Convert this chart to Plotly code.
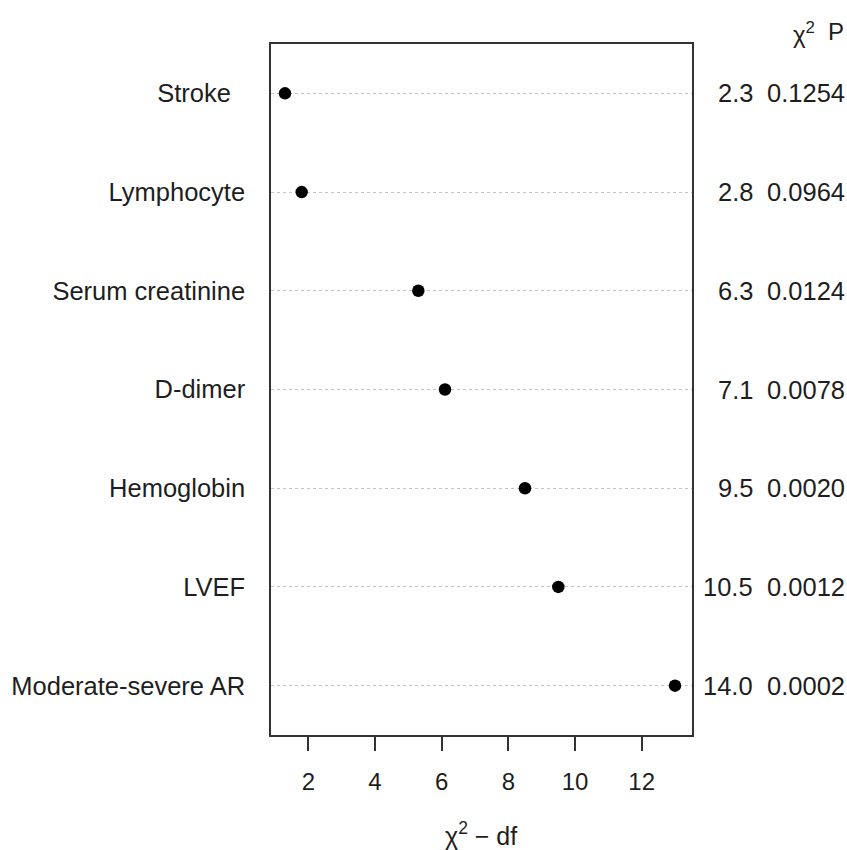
import plotly.graph_objects as go

labels = ["Stroke", "Lymphocyte", "Serum creatinine", "D-dimer",
          "Hemoglobin", "LVEF", "Moderate-severe AR"]
chisq = [2.3, 2.8, 6.3, 7.1, 9.5, 10.5, 14.0]
dfree = [1, 1, 1, 1, 1, 1, 1]
pvals = ["0.1254", "0.0964", "0.0124", "0.0078", "0.0020", "0.0012", "0.0002"]
xticks = [2, 4, 6, 8, 10, 12]

xvals = [c - d for c, d in zip(chisq, dfree)]
ypos = list(range(1, len(labels) + 1))
ticklab = [l + ("&nbsp;&nbsp;" if l == "Stroke" else "") for l in labels]

FONT = "Liberation Sans, Arial, sans-serif"
TXT = "#1e1e1e"

fig = go.Figure()
fig.add_trace(go.Scatter(
    x=xvals, y=ypos, mode="markers",
    marker=dict(color="black", size=12.5),
    showlegend=False, hoverinfo="skip"))

annots = []
for y, c, p in zip(ypos, chisq, pvals):
    annots.append(dict(x=1, xref="paper", y=y, yref="y", text=f"{c:.1f}",
                       xanchor="right", yanchor="middle", xshift=63, showarrow=False,
                       font=dict(size=25.5, color=TXT, family=FONT)))
    annots.append(dict(x=1, xref="paper", y=y, yref="y", text=p,
                       xanchor="right", yanchor="middle", xshift=155, showarrow=False,
                       font=dict(size=25.5, color=TXT, family=FONT)))
annots.append(dict(x=1, xref="paper", y=1, yref="paper", text="χ<sup>2</sup>",
                   xanchor="center", yanchor="bottom", xshift=112, yshift=-6,
                   showarrow=False, font=dict(size=24, color=TXT, family=FONT)))
annots.append(dict(x=1, xref="paper", y=1, yref="paper", text="P",
                   xanchor="center", yanchor="bottom", xshift=144, yshift=-3,
                   showarrow=False, font=dict(size=24, color=TXT, family=FONT)))
annots.append(dict(x=0.5, xref="paper", y=0, yref="paper", text="χ<sup>2</sup> − df",
                   xanchor="center", yanchor="middle", yshift=-99, xshift=-1,
                   showarrow=False, font=dict(size=25, color=TXT, family=FONT)))

fig.update_layout(
    width=847, height=850,
    margin=dict(l=271, r=155, t=44, b=115, autoexpand=False),
    paper_bgcolor="white", plot_bgcolor="white",
    annotations=annots,
    xaxis=dict(range=[0.88, 13.51], tickvals=xticks, ticks="outside", ticklen=14,
               tickwidth=1.5, tickcolor="#333", showgrid=False, zeroline=False,
               showline=True, linecolor="#333", linewidth=1.5, mirror=True,
               automargin=False, ticklabelstandoff=10,
               tickfont=dict(size=24, color=TXT, family=FONT)),
    yaxis=dict(range=[7.5, 0.5], tickvals=ypos, ticktext=ticklab, ticks="",
               ticklabelstandoff=19, automargin=False,
               showgrid=True, gridcolor="#c4c4c4", griddash="dot", gridwidth=1,
               zeroline=False, showline=True, linecolor="#333", linewidth=1.5,
               mirror=True, tickfont=dict(size=25.5, color=TXT, family=FONT)),
)
fig.write_html("out.html", config={"displayModeBar": False},
               post_script="document.body.style.margin='0px';")
